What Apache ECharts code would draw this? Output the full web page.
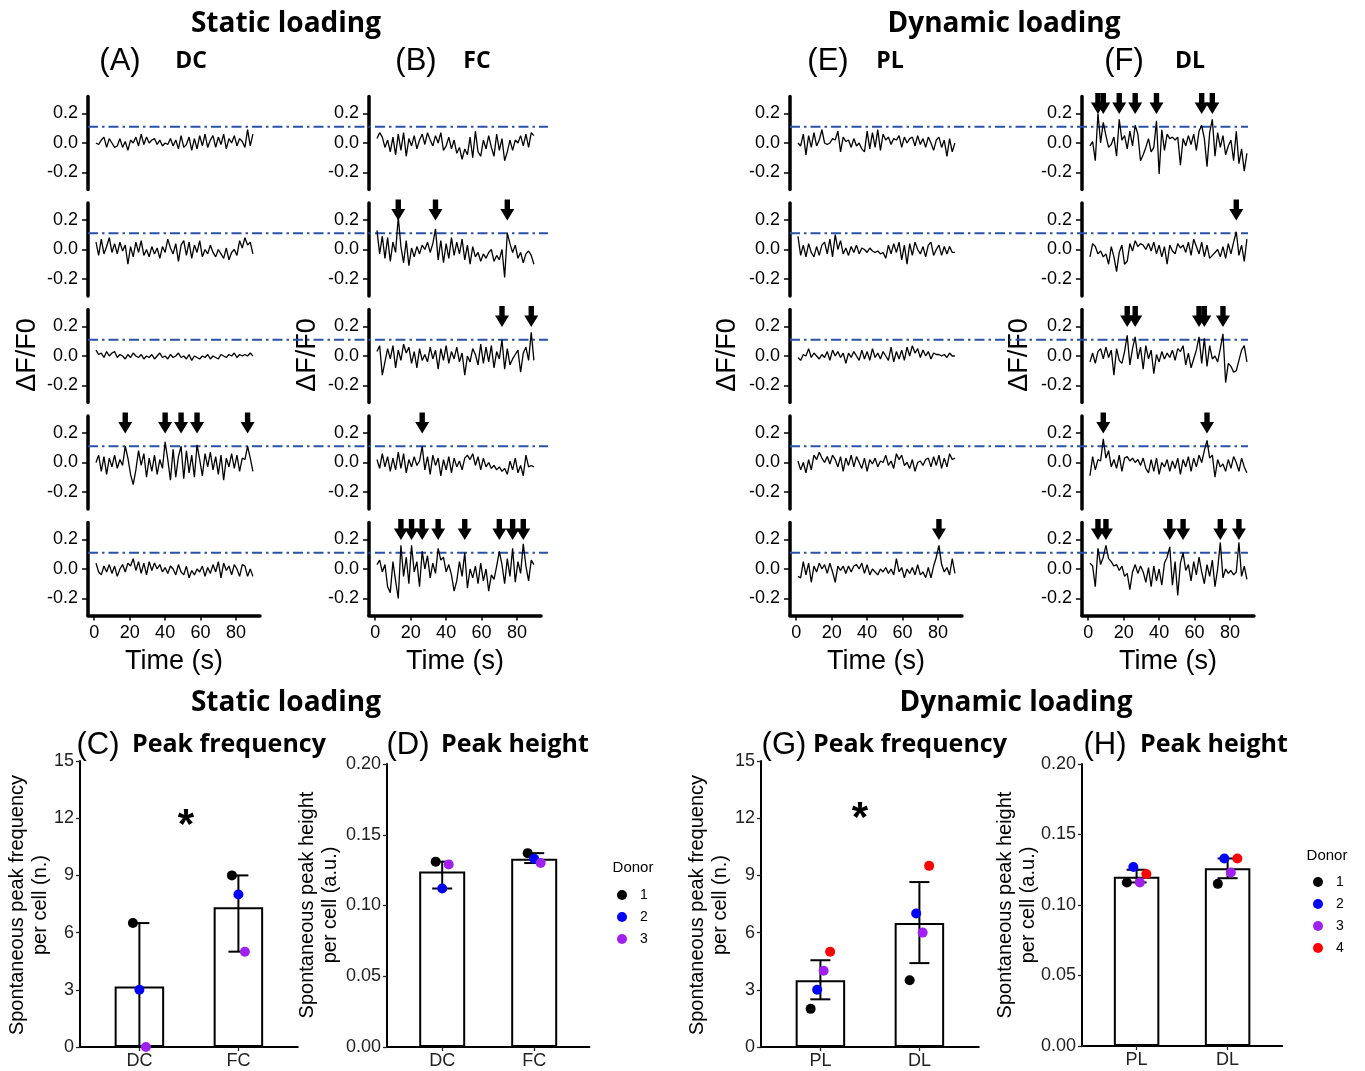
<!DOCTYPE html>
<html>
<head>
<meta charset="utf-8">
<script src="https://cdn.jsdelivr.net/npm/echarts@6/dist/echarts.min.js"></script>
<style>
html, body { margin: 0; padding: 0; background: #fff; }
#chart { width: 1365px; height: 1071px; }
</style>
</head>
<body>
<div id="chart"></div>
<script>
// Calcium traces (ΔF/F0), one sample every 1.5 s starting at t = 1 s
const TIME_START = 1;
const TIME_STEP = 1.5;
const THRESHOLD = 0.11;

// DC
const dc1 = [0.00,-0.01,0.02,0.04,-0.03,0.03,0.00,-0.03,-0.02,0.03,-0.03,0.01,-0.05,0.02,0.00,0.04,-0.02,0.06,-0.01,0.04,0.00,0.02,0.03,-0.01,0.02,-0.02,0.00,-0.01,0.03,-0.02,0.02,-0.04,0.05,-0.03,-0.01,0.04,-0.05,0.03,-0.04,0.05,-0.02,0.06,-0.03,0.02,0.05,-0.03,0.04,-0.01,0.06,-0.04,0.03,0.00,0.05,-0.02,0.03,0.01,-0.03,0.09,-0.02,0.06];
const dc2 = [0.05,-0.04,0.07,-0.03,0.02,0.08,-0.02,0.04,-0.03,0.05,-0.01,0.03,-0.10,0.02,-0.05,0.05,-0.02,0.06,-0.04,0.00,-0.05,0.02,-0.03,0.01,-0.06,0.02,-0.02,0.07,0.01,-0.03,0.04,-0.08,0.03,0.06,-0.04,0.05,-0.06,0.03,-0.02,0.06,-0.05,0.00,-0.03,0.03,-0.02,-0.05,0.00,-0.03,-0.06,0.01,-0.07,-0.02,0.00,-0.04,0.06,0.01,0.08,0.03,0.05,-0.03];
const dc3 = [0.04,0.01,0.02,-0.01,0.03,0.00,0.02,0.03,-0.01,0.01,0.00,-0.02,0.01,-0.01,0.02,0.00,-0.01,0.01,-0.02,0.00,-0.01,0.01,-0.02,0.00,0.02,-0.01,0.00,-0.02,0.01,-0.01,0.00,0.02,-0.01,0.00,-0.02,0.01,-0.03,0.00,-0.01,-0.02,0.00,-0.01,0.01,-0.02,0.00,-0.01,-0.02,0.01,0.00,-0.01,0.01,0.00,0.02,-0.01,0.01,0.00,0.01,0.00,0.02,0.00];
const dc4 = [0.00,0.05,-0.06,0.04,-0.08,0.03,-0.03,0.05,-0.04,0.02,-0.02,0.11,0.03,-0.08,-0.15,-0.05,0.08,-0.02,0.06,-0.10,0.03,-0.06,0.05,-0.08,0.02,-0.04,0.14,0.02,-0.12,0.09,-0.10,0.04,0.11,-0.11,0.08,-0.07,0.05,-0.10,0.12,0.02,-0.09,0.06,-0.03,0.07,-0.05,0.04,-0.08,0.05,-0.12,0.03,-0.03,0.06,-0.04,0.05,-0.06,0.03,0.02,0.11,0.03,-0.06];
const dc5 = [0.04,-0.02,-0.04,0.02,-0.02,0.03,-0.03,0.02,-0.05,0.00,0.03,-0.02,0.04,0.02,0.07,-0.01,0.05,-0.03,0.04,-0.04,0.05,-0.01,0.04,0.00,0.03,-0.02,0.01,-0.03,0.02,0.00,-0.04,0.03,-0.02,-0.04,0.02,-0.06,-0.01,-0.04,0.00,-0.02,0.02,-0.05,0.01,-0.03,0.03,-0.02,0.05,-0.06,0.04,-0.01,0.02,-0.04,0.03,0.00,-0.05,0.03,0.02,-0.05,0.00,-0.05];
// FC
const fc1 = [0.03,0.07,0.04,-0.03,0.02,-0.06,0.04,-0.08,0.06,-0.05,0.07,-0.09,0.03,-0.02,0.05,-0.04,0.02,0.06,-0.01,0.07,0.02,-0.02,0.05,0.00,0.07,-0.05,-0.02,0.04,-0.04,0.02,-0.07,-0.03,-0.11,-0.04,-0.08,0.04,-0.10,0.08,-0.06,-0.09,0.02,-0.04,0.05,-0.03,-0.09,0.06,-0.05,0.03,-0.12,-0.06,0.02,-0.05,0.02,0.00,0.05,-0.02,0.06,-0.03,0.07,0.05];
const fc2 = [0.13,-0.03,0.09,-0.06,0.08,-0.08,0.05,-0.02,0.22,0.02,-0.09,0.06,-0.11,0.01,-0.05,0.02,-0.03,0.03,0.00,0.05,-0.02,0.04,0.14,-0.07,0.06,-0.09,0.04,-0.06,0.08,-0.04,0.05,-0.03,0.07,-0.07,0.03,-0.10,0.02,-0.05,-0.02,-0.08,-0.03,-0.06,-0.02,0.00,-0.08,-0.04,-0.07,0.00,-0.19,0.11,0.04,-0.02,0.03,-0.06,-0.02,-0.09,-0.03,-0.01,-0.04,-0.10];
const fc3 = [0.03,0.07,-0.13,-0.04,0.05,-0.02,0.07,-0.08,0.04,-0.03,0.08,0.02,0.06,-0.05,0.03,-0.08,0.05,-0.03,0.01,-0.04,0.06,-0.02,0.04,-0.09,0.05,-0.03,0.07,-0.05,0.03,-0.02,0.06,-0.04,0.02,-0.13,0.00,-0.04,0.05,0.01,-0.06,0.08,-0.05,0.06,-0.04,0.07,-0.08,0.03,-0.02,0.11,-0.09,0.05,-0.06,-0.02,0.01,0.04,-0.11,0.02,0.06,-0.03,0.16,-0.03];
const fc4 = [0.02,-0.04,0.06,-0.03,0.04,-0.06,0.03,-0.05,0.07,-0.04,0.06,-0.07,0.02,-0.03,0.04,-0.02,0.01,0.11,-0.05,0.04,-0.08,0.05,-0.02,0.03,-0.09,0.02,-0.05,0.04,-0.07,0.03,-0.03,0.01,-0.05,0.03,0.05,0.02,0.06,-0.02,0.04,-0.05,0.03,-0.03,0.00,-0.04,-0.02,-0.05,-0.03,-0.06,-0.04,-0.08,0.01,-0.05,0.03,-0.07,-0.02,-0.09,0.05,-0.03,-0.02,-0.03];
const fc5 = [0.03,0.06,-0.02,0.03,-0.12,-0.16,0.05,-0.08,-0.20,0.16,-0.05,0.08,-0.10,0.16,-0.02,0.05,-0.12,0.12,0.00,0.09,-0.06,0.04,-0.03,0.14,0.06,0.08,-0.02,0.03,-0.04,-0.15,-0.08,0.05,-0.05,0.11,-0.13,0.00,-0.06,0.02,-0.10,0.04,-0.08,0.00,-0.15,-0.04,-0.07,0.02,0.12,0.03,-0.10,0.07,-0.05,0.14,-0.09,0.05,-0.03,0.17,0.02,-0.08,0.06,0.03];
// PL
const pl1 = [0.00,-0.02,0.06,-0.08,0.05,-0.03,0.07,-0.02,0.02,0.09,0.00,-0.01,0.00,0.03,0.02,0.08,-0.06,0.04,0.01,0.02,-0.03,0.03,-0.02,0.00,-0.04,-0.06,0.08,-0.04,0.07,-0.03,0.09,-0.05,0.06,0.02,0.04,-0.01,0.03,0.02,0.05,-0.03,0.04,0.00,0.03,0.04,-0.02,0.05,-0.01,0.03,-0.03,0.04,0.00,-0.05,0.02,0.04,-0.03,0.02,-0.09,0.03,-0.06,0.00];
const pl2 = [0.09,-0.04,0.03,-0.05,0.04,-0.02,-0.05,0.02,-0.04,0.03,0.05,-0.03,0.07,-0.05,0.10,0.00,0.06,-0.03,0.01,-0.04,0.02,-0.02,0.03,-0.03,0.01,0.00,-0.02,0.01,-0.01,-0.02,-0.01,-0.03,-0.02,-0.06,0.03,-0.03,0.04,-0.02,0.05,-0.07,0.03,-0.10,0.04,-0.04,0.05,0.00,-0.03,0.02,-0.05,0.03,0.05,-0.04,0.00,0.03,-0.04,0.02,-0.03,0.02,-0.02,-0.02];
const pl3 = [-0.01,-0.03,0.01,0.00,0.05,-0.01,0.02,0.00,-0.02,0.01,-0.01,0.03,-0.03,0.04,0.00,0.03,-0.01,0.02,-0.05,0.02,-0.01,0.03,0.00,-0.03,0.04,-0.02,0.03,-0.03,0.05,-0.01,0.02,-0.02,0.03,0.00,-0.03,0.06,-0.04,0.03,-0.02,0.04,-0.03,0.06,0.00,0.07,0.02,0.05,-0.01,0.04,0.00,0.03,-0.02,0.02,0.01,0.01,0.00,0.01,-0.01,0.02,0.00,0.00];
const pl4 = [0.01,-0.05,0.00,-0.07,0.02,-0.05,0.05,0.02,0.07,0.03,0.00,0.04,-0.01,0.05,0.02,-0.03,0.04,-0.06,0.03,-0.02,0.05,-0.03,0.04,0.00,-0.04,0.03,-0.06,0.02,-0.01,0.03,-0.03,0.01,0.00,0.05,-0.02,0.01,-0.04,0.06,0.02,0.05,-0.02,0.00,-0.04,0.02,-0.06,0.00,0.01,-0.02,0.02,0.03,-0.03,0.04,-0.02,0.05,-0.04,0.03,-0.03,0.06,0.02,0.03];
const pl5 = [-0.05,-0.06,0.05,-0.04,0.04,-0.09,0.02,-0.02,0.04,0.00,0.03,-0.03,0.04,-0.02,-0.09,0.02,-0.01,0.02,-0.03,0.02,-0.02,0.02,0.03,0.00,0.04,-0.03,0.03,-0.04,0.00,-0.02,-0.04,0.00,-0.02,0.01,-0.03,0.00,-0.04,0.07,-0.02,0.01,-0.06,0.00,-0.03,0.01,-0.04,0.03,-0.04,-0.02,-0.06,0.01,-0.06,0.02,0.08,0.16,0.03,-0.02,0.01,-0.04,0.07,-0.03];
// DL
const dl1 = [-0.02,0.01,-0.12,0.20,0.00,0.14,0.05,-0.03,-0.01,0.04,-0.09,0.16,0.02,0.05,-0.04,0.08,-0.02,0.12,0.06,-0.12,-0.08,-0.03,0.03,-0.06,-0.03,0.15,-0.21,0.09,-0.05,0.06,0.03,0.04,0.02,0.04,-0.15,0.03,-0.02,0.05,-0.01,0.06,-0.05,0.08,0.12,0.03,-0.16,0.07,0.16,-0.09,0.07,-0.03,0.05,-0.08,-0.02,0.02,-0.12,0.08,-0.14,-0.04,-0.19,-0.07];
const dl2 = [-0.05,0.04,0.02,-0.03,-0.01,-0.05,-0.03,-0.10,0.02,-0.05,-0.15,-0.02,0.03,-0.10,-0.08,0.04,-0.01,0.06,0.02,0.04,0.03,0.00,0.04,-0.01,0.05,-0.03,0.03,-0.05,0.02,-0.10,0.03,-0.01,-0.03,0.04,0.01,0.03,-0.02,0.05,-0.04,0.07,0.02,-0.03,0.05,-0.05,0.03,-0.06,-0.04,-0.02,0.00,-0.05,0.02,-0.06,0.04,-0.03,0.05,0.12,-0.04,0.03,-0.08,0.07];
const dl3 = [-0.04,0.02,-0.05,0.03,0.05,-0.02,0.06,-0.01,0.04,-0.13,0.05,-0.03,-0.05,0.03,0.14,-0.06,0.05,0.13,-0.02,0.06,-0.09,0.07,-0.02,0.04,-0.12,0.01,-0.04,0.03,-0.02,0.02,-0.01,0.04,-0.03,0.05,0.03,0.07,-0.06,0.02,-0.08,-0.02,0.04,0.13,-0.05,0.12,-0.07,0.07,-0.02,0.00,-0.04,0.05,0.15,-0.18,-0.05,-0.07,-0.11,-0.10,-0.03,0.04,0.07,-0.04];
const dl4 = [-0.09,0.04,-0.05,0.02,0.01,0.16,0.03,0.08,-0.03,0.02,-0.04,0.05,-0.06,0.03,0.04,0.01,0.03,0.00,0.02,-0.02,0.03,-0.04,-0.07,0.02,-0.06,0.03,-0.08,0.00,-0.03,0.02,-0.06,0.01,-0.04,0.03,-0.08,0.02,-0.03,0.04,-0.06,0.03,-0.03,0.05,0.00,0.08,0.15,0.03,0.05,-0.10,0.02,-0.03,-0.01,-0.06,0.02,-0.04,0.04,0.00,-0.06,0.03,-0.03,-0.07];
const dl5 = [0.04,0.02,-0.12,0.14,0.03,0.08,0.16,0.07,0.05,0.02,0.03,-0.01,0.02,-0.05,-0.03,-0.14,-0.02,0.03,-0.03,0.02,-0.02,-0.09,0.01,-0.12,0.02,-0.08,0.00,-0.11,0.04,0.08,0.15,-0.11,0.05,-0.18,0.04,0.11,-0.01,0.03,-0.08,0.05,-0.04,0.08,-0.02,-0.10,0.03,-0.05,0.06,-0.12,0.00,0.18,-0.06,0.00,-0.03,-0.01,-0.04,-0.02,0.18,-0.05,0.02,-0.07];

// Times (s) of the detected spontaneous peaks, per cell
const dcPeaks = [[], [], [], [17.5, 40, 49, 58, 86.5], []];
const fcPeaks = [[], [13, 34, 74.5], [71.5, 88], [26.5], [14.5, 20.5, 26.5, 35.5, 50.5, 70, 77.5, 83.5]];
const plPeaks = [[], [], [], [], [80.5]];
const dlPeaks = [[5.5, 8.5, 17.5, 26.5, 38.5, 64, 70], [83.5], [22, 26.5, 62.5, 65.5, 76], [8.5, 67], [5.5, 10, 46, 53.5, 74.5, 85]];

const timeTicks = [0, 20, 40, 60, 80];
const dffTicks = [-0.2, 0, 0.2];

// Summary statistics per condition
const staticCats = ['DC', 'FC'];
const dynamicCats = ['PL', 'DL'];

const staticFreqMean = [3.17, 7.33];
const staticFreqLow = [0, 5.0];
const staticFreqHigh = [6.5, 9.0];
const staticFreqDonor1 = [6.5, 9.0];
const staticFreqDonor2 = [3.0, 8.0];
const staticFreqDonor3 = [0.0, 5.0];

const staticHeightMean = [0.124, 0.133];
const staticHeightLow = [0.112, 0.130];
const staticHeightHigh = [0.131, 0.137];
const staticHeightDonor1 = [0.131, 0.137];
const staticHeightDonor2 = [0.112, 0.133];
const staticHeightDonor3 = [0.129, 0.130];

const dynamicFreqMean = [3.5, 6.5];
const dynamicFreqLow = [2.5, 4.4];
const dynamicFreqHigh = [4.55, 8.65];
const dynamicFreqDonor1 = [2.0, 3.5];
const dynamicFreqDonor2 = [3.0, 7.0];
const dynamicFreqDonor3 = [4.0, 6.0];
const dynamicFreqDonor4 = [5.0, 9.5];

const dynamicHeightMean = [0.120, 0.126];
const dynamicHeightLow = [0.116, 0.119];
const dynamicHeightHigh = [0.125, 0.133];
const dynamicHeightDonor1 = [0.116, 0.115];
const dynamicHeightDonor2 = [0.127, 0.133];
const dynamicHeightDonor3 = [0.116, 0.123];
const dynamicHeightDonor4 = [0.122, 0.133];

const donorNames = ['1', '2', '3', '4'];
const donorColors = ['#000000', '#0000FF', '#A020F0', '#FF0000'];

// ---------------------------------------------------------------
const SANS = '"Liberation Sans", Arial, sans-serif';
const HEAD = '"Open Sans", Lato, sans-serif';

const grids = [], xAxes = [], yAxes = [], series = [];
function addGrid(grid, xAxis, yAxis) {
  const idx = grids.length;
  grids.push(grid);
  xAxes.push(Object.assign({ gridIndex: idx }, xAxis));
  yAxes.push(Object.assign({ gridIndex: idx }, yAxis));
  return idx;
}

// --- trace panels ---
const TRACE_W = 172, TRACE_H = 93, ROW0 = 96.5, ROW_STEP = 106.5;
const DFF_RANGE = 0.315;
const ARROW_LEVEL = 0.268;
const ARROW_PATH = 'path://M4,0H9V9H13L6.5,20L0,9H4Z';

const traceColumns = [
  { left: 88,   traces: [dc1, dc2, dc3, dc4, dc5], peaks: dcPeaks },
  { left: 369,  traces: [fc1, fc2, fc3, fc4, fc5], peaks: fcPeaks },
  { left: 790,  traces: [pl1, pl2, pl3, pl4, pl5], peaks: plPeaks },
  { left: 1082, traces: [dl1, dl2, dl3, dl4, dl5], peaks: dlPeaks }
];

// threshold lines run across each pair of columns
const thresholdSpans = [ { left: 88, right: 548 }, { left: 790, right: 1248 } ];
for (let r = 0; r < 5; r++) {
  const top = ROW0 + r * ROW_STEP;
  thresholdSpans.forEach(span => {
    const gi = addGrid(
      { left: span.left, top: top, width: span.right - span.left, height: TRACE_H },
      { type: 'value', min: 0, max: 1, show: false },
      { type: 'value', min: -DFF_RANGE, max: DFF_RANGE, show: false }
    );
    series.push({
      type: 'line', xAxisIndex: gi, yAxisIndex: gi, silent: true, z: 1,
      showSymbol: false,
      data: [[0, THRESHOLD], [1, THRESHOLD]],
      lineStyle: { color: '#2A52A6', width: 2, type: [10, 4, 2.5, 4] }
    });
  });
}

traceColumns.forEach(col => {
  col.traces.forEach((trace, r) => {
    const bottom = r === 4;
    const gi = addGrid(
      { left: col.left, top: ROW0 + r * ROW_STEP, width: TRACE_W, height: TRACE_H },
      {
        type: 'value', min: -3.5, max: 93.5,
        axisLine: { show: bottom, onZero: false, lineStyle: { color: '#000', width: 3.5 } },
        axisTick: { show: bottom, customValues: timeTicks, length: 5, lineStyle: { color: '#000', width: 1.5 } },
        axisLabel: { show: bottom, customValues: timeTicks, fontSize: 18, color: '#000', fontFamily: SANS, margin: 9 },
        splitLine: { show: false },
        name: bottom ? 'Time (s)' : '', nameLocation: 'middle', nameGap: 33,
        nameTextStyle: { fontSize: 27, color: '#000', fontFamily: SANS }
      },
      {
        type: 'value', min: -DFF_RANGE, max: DFF_RANGE,
        axisLine: { show: true, onZero: false, lineStyle: { color: '#000', width: 3.5 } },
        axisTick: { show: true, customValues: dffTicks, length: 6, lineStyle: { color: '#000', width: 1.5 } },
        axisLabel: { customValues: dffTicks, fontSize: 18, color: '#000', fontFamily: SANS, margin: 10,
                     formatter: v => v.toFixed(1) },
        splitLine: { show: false }
      }
    );
    series.push({
      type: 'line', xAxisIndex: gi, yAxisIndex: gi, silent: true, z: 3,
      showSymbol: false,
      data: trace.map((v, i) => [TIME_START + i * TIME_STEP, v]),
      lineStyle: { color: '#000', width: 1.3 }
    });
    if (col.peaks[r].length) {
      series.push({
        type: 'scatter', xAxisIndex: gi, yAxisIndex: gi, silent: true, z: 4, clip: false,
        symbol: ARROW_PATH, symbolSize: [14, 21],
        itemStyle: { color: '#000', opacity: 1 },
        data: col.peaks[r].map(t => [t, ARROW_LEVEL])
      });
    }
  });
});

// --- bar panels ---
const barPanels = [
  { left: 80, top: 761, unit: 99, height: 286, cats: staticCats, yMax: 15, yStep: 3, digits: 0,
    mean: staticFreqMean, low: staticFreqLow, high: staticFreqHigh,
    donors: [staticFreqDonor1, staticFreqDonor2, staticFreqDonor3] },
  { left: 387, top: 764, unit: 92, height: 283, cats: staticCats, yMax: 0.2, yStep: 0.05, digits: 2,
    mean: staticHeightMean, low: staticHeightLow, high: staticHeightHigh,
    donors: [staticHeightDonor1, staticHeightDonor2, staticHeightDonor3] },
  { left: 761, top: 761, unit: 99, height: 286, cats: dynamicCats, yMax: 15, yStep: 3, digits: 0,
    mean: dynamicFreqMean, low: dynamicFreqLow, high: dynamicFreqHigh,
    donors: [dynamicFreqDonor1, dynamicFreqDonor2, dynamicFreqDonor3, dynamicFreqDonor4] },
  { left: 1082, top: 764, unit: 91, height: 282, cats: dynamicCats, yMax: 0.2, yStep: 0.05, digits: 2,
    mean: dynamicHeightMean, low: dynamicHeightLow, high: dynamicHeightHigh,
    donors: [dynamicHeightDonor1, dynamicHeightDonor2, dynamicHeightDonor3, dynamicHeightDonor4] }
];

barPanels.forEach(p => {
  const catPos = p.cats.map((c, j) => j + 1);
  const gi = addGrid(
    { left: p.left, top: p.top, width: p.unit * 2.2, height: p.height },
    {
      type: 'value', min: 0.4, max: 2.6,
      axisLine: { show: true, onZero: false, lineStyle: { color: '#000', width: 2 } },
      axisTick: { show: true, customValues: catPos, length: 4, lineStyle: { color: '#222', width: 1.3 } },
      axisLabel: { customValues: catPos, fontSize: 18, color: '#222', fontFamily: SANS, margin: 5,
                   formatter: v => p.cats[Math.round(v) - 1] },
      splitLine: { show: false }
    },
    {
      type: 'value', min: 0, max: p.yMax, interval: p.yStep,
      axisLine: { show: true, onZero: false, lineStyle: { color: '#000', width: 2 } },
      axisTick: { show: true, length: 4, lineStyle: { color: '#222', width: 1.3 } },
      axisLabel: { fontSize: 18, color: '#222', fontFamily: SANS, margin: 6,
                   formatter: v => v.toFixed(p.digits) },
      splitLine: { show: false }
    }
  );
  series.push({
    type: 'bar', xAxisIndex: gi, yAxisIndex: gi, silent: true, z: 2,
    barWidth: p.unit * 0.5,
    itemStyle: { color: '#fff', borderColor: '#000', borderWidth: 2 },
    data: p.mean.map((m, j) => [j + 1, m])
  });
  series.push({
    type: 'custom', xAxisIndex: gi, yAxisIndex: gi, silent: true, z: 3,
    data: p.mean.map((m, j) => [j + 1, p.low[j], p.high[j]]),
    renderItem: (params, api) => {
      const lo = api.coord([api.value(0), api.value(1)]);
      const hi = api.coord([api.value(0), api.value(2)]);
      const cap = 10;
      const st = { stroke: '#000', lineWidth: 2 };
      return {
        type: 'group',
        children: [
          { type: 'line', shape: { x1: lo[0], y1: lo[1], x2: hi[0], y2: hi[1] }, style: st },
          { type: 'line', shape: { x1: hi[0] - cap, y1: hi[1], x2: hi[0] + cap, y2: hi[1] }, style: st },
          { type: 'line', shape: { x1: lo[0] - cap, y1: lo[1], x2: lo[0] + cap, y2: lo[1] }, style: st }
        ]
      };
    }
  });
  const n = p.donors.length;
  p.donors.forEach((vals, d) => {
    series.push({
      type: 'scatter', name: donorNames[d], xAxisIndex: gi, yAxisIndex: gi, silent: true, z: 4, clip: false,
      symbol: 'circle', symbolSize: 10,
      symbolOffset: [(d - (n - 1) / 2) * 6.5, 0],
      itemStyle: { color: donorColors[d], opacity: 1 },
      data: vals.map((v, j) => [j + 1, v])
    });
  });
});

// --- text ---
function txt(x, y, text, font, align) {
  return {
    type: 'text', x: x, y: y, silent: true,
    style: { text: text, font: font, fill: '#000', align: align || 'center', verticalAlign: 'middle' }
  };
}
function vtxt(x, y, text, font, lineHeight) {
  return {
    type: 'text', x: x, y: y, rotation: Math.PI / 2, silent: true,
    style: { text: text, font: font, fill: '#000', align: 'center', verticalAlign: 'middle', lineHeight: lineHeight }
  };
}
const TITLE_FONT = 'bold 28px ' + HEAD;
const TAG_FONT = '31px ' + SANS;
const SUB_FONT = 'bold 23px ' + HEAD;
const SUB2_FONT = 'bold 25px ' + HEAD;
const YT_FONT = '20px ' + SANS;

const graphics = [
  txt(286, 24, 'Static loading', TITLE_FONT),
  txt(1004, 24, 'Dynamic loading', TITLE_FONT),
  txt(120, 61, '(A)', TAG_FONT), txt(191, 61, 'DC', SUB_FONT),
  txt(416, 61, '(B)', TAG_FONT), txt(477, 61, 'FC', SUB_FONT),
  txt(828, 61, '(E)', TAG_FONT), txt(890, 61, 'PL', SUB_FONT),
  txt(1124, 61, '(F)', TAG_FONT), txt(1190, 61, 'DL', SUB_FONT),
  vtxt(28, 355, 'ΔF/F0', '27px ' + SANS),
  vtxt(308, 355, 'ΔF/F0', '27px ' + SANS),
  vtxt(728, 355, 'ΔF/F0', '27px ' + SANS),
  vtxt(1020, 355, 'ΔF/F0', '27px ' + SANS),
  txt(286, 703, 'Static loading', TITLE_FONT),
  txt(1016, 703, 'Dynamic loading', TITLE_FONT),
  txt(98, 745, '(C)', TAG_FONT), txt(132, 745, 'Peak frequency', SUB2_FONT, 'left'),
  txt(408, 745, '(D)', TAG_FONT), txt(441, 745, 'Peak height', SUB2_FONT, 'left'),
  txt(784, 745, '(G)', TAG_FONT), txt(813, 745, 'Peak frequency', SUB2_FONT, 'left'),
  txt(1105, 745, '(H)', TAG_FONT), txt(1140, 745, 'Peak height', SUB2_FONT, 'left'),
  vtxt(28.5, 905, 'Spontaneous peak frequency\nper cell (n.)', YT_FONT, 23),
  vtxt(318.5, 905, 'Spontaneous peak height\nper cell (a.u.)', YT_FONT, 23),
  vtxt(708.5, 905, 'Spontaneous peak frequency\nper cell (n.)', YT_FONT, 23),
  vtxt(1016.5, 905, 'Spontaneous peak height\nper cell (a.u.)', YT_FONT, 23),
  txt(186, 826, '*', 'bold 42px ' + SANS),
  txt(860, 819, '*', 'bold 42px ' + SANS),
  txt(633, 868, 'Donor', '15px ' + SANS),
  txt(1327, 856, 'Donor', '15px ' + SANS)
];

const legendBase = {
  orient: 'vertical', icon: 'circle', itemWidth: 10, itemHeight: 10, itemGap: 6,
  selectedMode: false,
  textStyle: { fontSize: 14, color: '#000', fontFamily: SANS, lineHeight: 16, padding: [0, 0, 0, 8] }
};

const chart = echarts.init(document.getElementById('chart'));
chart.setOption({
  animation: false,
  backgroundColor: '#fff',
  grid: grids,
  xAxis: xAxes,
  yAxis: yAxes,
  series: series,
  legend: [
    Object.assign({ data: ['1', '2', '3'], left: 612, top: 882 }, legendBase),
    Object.assign({ data: ['1', '2', '3', '4'], left: 1308, top: 869 }, legendBase)
  ],
  graphic: graphics
});
</script>
</body>
</html>
